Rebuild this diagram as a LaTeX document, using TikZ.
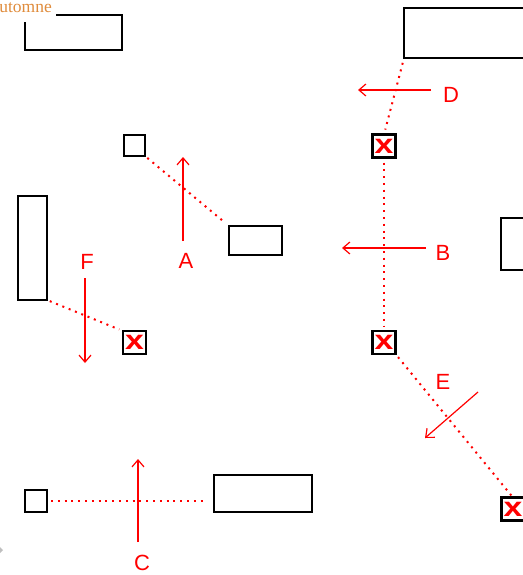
\documentclass[tikz,border=0pt]{standalone}
\usepackage{fontspec}
\setmainfont{Liberation Sans}
\newfontfamily\autumnfont{Liberation Serif}
\usetikzlibrary{arrows.meta}
\definecolor{autumn}{RGB}{224,140,60}
\newcommand{\redx}{\raisebox{-2pt}{\scalebox{1.25}[1]{x}}}
\begin{document}
\begin{tikzpicture}[x=1pt,y=-1pt,
  box/.style 2 args={draw=black,line width=2.5pt,inner sep=0pt,outer sep=0pt,minimum width=#1,minimum height=#2},
  xsq/.style={box={23}{23},text=red,font=\bfseries\fontsize{27}{27}\selectfont},
  link/.style={draw=red,line width=2pt,dash pattern=on 2pt off 4.8pt},
  arr/.style={draw=red,line width=1.2pt,-{Straight Barb[length=7pt,width=12pt]}},
  lab/.style={text=red,font=\fontsize{22}{22}\selectfont,inner sep=0pt}]
\useasboundingbox (0,0) rectangle (522,575);
% boxes
\node[box={97}{35}] (b1) at (73.5,32.5) {};
\node[text=autumn,fill=white,anchor=base east,inner xsep=4pt,inner ysep=3pt,text depth=6pt,font=\autumnfont\fontsize{17.5}{17.5}\selectfont] (title) at (56,12.7) {Automne};
\node[box={140}{50}] (b2) at (474,33) {};
\node[box={21}{21}] (s3) at (134.5,145.5) {};
\node[box={53}{29}] (b4) at (255.5,240.5) {};
\node[box={29}{104}] (b5) at (32.5,248) {};
\node[xsq] (s6) at (134.5,342.5) {\redx};
\node[xsq] (s7) at (384,146) {\redx};
\node[xsq] (s8) at (384,342.5) {\redx};
\node[xsq] (s9) at (513,509) {\redx};
\node[box={60}{52}] (b10) at (531,244) {};
\node[box={22}{22}] (s11) at (36,501) {};
\node[box={98}{37}] (b12) at (263,493.5) {};
% dotted links
\draw[link,shorten <=3pt,shorten >=5pt] (s3.south east) -- (b4.north west);
\draw[link,shorten <=3pt,shorten >=4pt] (b5.south east) -- (s6.north west);
\draw[link,shorten <=5pt,shorten >=5pt] (b2.south west) -- (s7.north);
\draw[link,shorten <=5pt,shorten >=4pt] (s7.south) -- (s8.north);
\draw[link,shorten <=4pt,shorten >=1pt] (s8.south east) -- (s9.north);
\draw[link,shorten <=4pt,shorten >=8pt] (s11.east) -- (s11.east -| b12.west);
% arrows
\coordinate (a1) at (183,241); \coordinate (a2) at (183,157);
\draw[arr] (a1) -- (a2);
\node[lab] (la) at (186,261) {A};
\coordinate (bb1) at (426,248); \coordinate (bb2) at (342,248);
\draw[arr] (bb1) -- (bb2);
\node[lab] (lb) at (443,253) {B};
\coordinate (c1) at (138,542); \coordinate (c2) at (138,459);
\draw[arr] (c1) -- (c2);
\node[lab] (lc) at (142,563) {C};
\coordinate (d1) at (431,90); \coordinate (d2) at (358,90);
\draw[arr] (d1) -- (d2);
\node[lab] (ld) at (451,95) {D};
\coordinate (e1) at (478,392); \coordinate (e2) at (425,438);
\draw[arr] (e1) -- (e2);
\node[lab] (le) at (443,382) {E};
\coordinate (f1) at (85,278); \coordinate (f2) at (85,363);
\draw[arr] (f1) -- (f2);
\node[lab] (lf) at (87,262) {F};
% small grey mark at the left edge
\fill[gray!50] (0,547) -- (3,550) -- (0,553) -- cycle;
\end{tikzpicture}
\end{document}
